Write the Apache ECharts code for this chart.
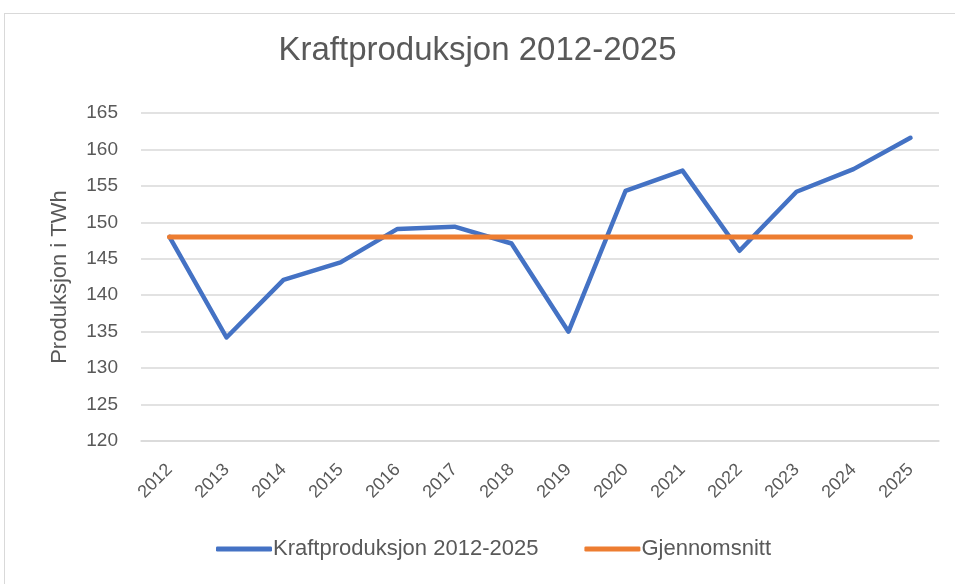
<!DOCTYPE html>
<html>
<head>
<meta charset="utf-8">
<script src="https://cdn.jsdelivr.net/npm/echarts@6/dist/echarts.min.js"></script>
<style>
  html, body { margin: 0; padding: 0; background: #fff; }
  #frame { position: absolute; left: 4px; top: 13px; width: 960px; height: 590px; border: 1px solid #d9d9d9; box-sizing: border-box; }
  #main { position: absolute; left: 0; top: 0; width: 955px; height: 584px; }
</style>
</head>
<body>
<div id="frame"></div>
<div id="main"></div>
<script>
  // kategorier og verdier lest av bildet
  const years = ['2012', '2013', '2014', '2015', '2016', '2017', '2018', '2019', '2020', '2021', '2022', '2023', '2024', '2025'];
  const production = [148.0, 134.2, 142.1, 144.5, 149.1, 149.4, 147.1, 135.0, 154.3, 157.1, 146.1, 154.2, 157.3, 161.6];
  const average = [148, 148, 148, 148, 148, 148, 148, 148, 148, 148, 148, 148, 148, 148];

  const font = '"Liberation Sans", "DejaVu Sans", sans-serif';
  const textColor = '#595959';

  let chart = echarts.init(document.getElementById('main'));
  let option = {
    animation: false,
    title: {
      text: 'Kraftproduksjon 2012-2025',
      left: 'center',
      top: 29,
      textStyle: { fontFamily: font, fontSize: 33, fontWeight: 'normal', color: textColor }
    },
    legend: {
      bottom: 19,
      left: 211,
      itemWidth: 56,
      itemHeight: 5,
      itemGap: 46,
      icon: 'roundRect',
      textStyle: { fontFamily: font, fontSize: 22, color: textColor, padding: [0, 0, 0, -4] },
      data: ['Kraftproduksjon 2012-2025', 'Gjennomsnitt']
    },
    grid: { left: 141, right: 16, top: 113, bottom: 143 },
    xAxis: {
      type: 'category',
      data: years,
      boundaryGap: true,
      axisLine: { lineStyle: { color: '#d9d9d9', width: 1.5 } },
      axisTick: { show: false },
      axisLabel: { rotate: 45, fontFamily: font, fontSize: 18, color: textColor, margin: 26, interval: 0 }
    },
    yAxis: {
      type: 'value',
      min: 120,
      max: 165,
      interval: 5,
      name: 'Produksjon i TWh',
      nameLocation: 'middle',
      nameGap: 70,
      nameTextStyle: { fontFamily: font, fontSize: 22, color: textColor },
      axisLine: { show: false },
      axisTick: { show: false },
      axisLabel: { fontFamily: font, fontSize: 19, color: textColor, margin: 23 },
      splitLine: { lineStyle: { color: '#d9d9d9', width: 1.5 } }
    },
    series: [
      {
        name: 'Kraftproduksjon 2012-2025',
        type: 'line',
        data: production,
        symbol: 'none',
        color: '#4472C4',
        lineStyle: { width: 4.5, cap: 'round', join: 'round' }
      },
      {
        name: 'Gjennomsnitt',
        type: 'line',
        data: average,
        symbol: 'none',
        color: '#ED7D31',
        lineStyle: { width: 5, cap: 'round' }
      }
    ]
  };
  chart.setOption(option);
</script>
</body>
</html>
